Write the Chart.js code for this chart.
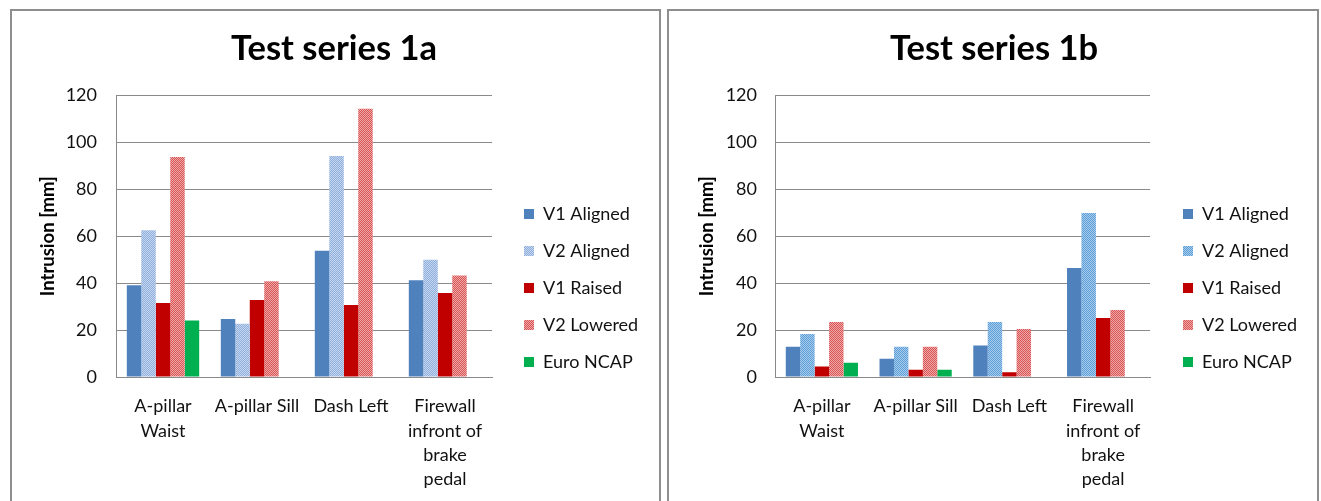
<!DOCTYPE html>
<html>
<head>
<meta charset="utf-8">
<script src="https://cdn.jsdelivr.net/npm/chart.js@4.4.1/dist/chart.umd.min.js"></script>
<style>
  html, body { margin: 0; padding: 0; background: #fff; overflow: hidden; width: 1321px; height: 501px; }
  .panel { position: absolute; top: 9px; border: 2px solid #8e8e8e; height: 560px; background: #fff; }
  #p1 { left: 10px; width: 647px; }
  #p2 { left: 667px; width: 648px; }
  canvas { display: block; }
</style>
</head>
<body>
<div class="panel" id="p1"><canvas id="c1" width="647" height="554"></canvas></div>
<div class="panel" id="p2"><canvas id="c2" width="648" height="554"></canvas></div>
<script>
// Measurement locations (x axis), legend names and y axis ticks
const categories = [['A-pillar', 'Waist'], 'A-pillar Sill', 'Dash Left', ['Firewall', 'infront of', 'brake', 'pedal']];
const seriesNames = ['V1 Aligned', 'V2 Aligned', 'V1 Raised', 'V2 Lowered', 'Euro NCAP'];
const yTicks = [0, 20, 40, 60, 80, 100, 120];

// Test series 1a – intrusion in mm
const s1a_v1Aligned = [39.1, 24.7, 53.8, 41.2];
const s1a_v2Aligned = [62.5, 22.7, 94.2, 50.0];
const s1a_v1Raised  = [31.5, 32.8, 30.7, 35.8];
const s1a_v2Lowered = [93.8, 40.8, 114.3, 43.3];
const s1a_euroNcap  = [24.1, null, null, null];

// Test series 1b – intrusion in mm
const s1b_v1Aligned = [12.9, 7.8, 13.4, 46.4];
const s1b_v2Aligned = [18.3, 12.9, 23.4, 69.9];
const s1b_v1Raised  = [4.5, 3.1, 2.0, 25.1];
const s1b_v2Lowered = [23.4, 12.9, 20.5, 28.6];
const s1b_euroNcap  = [6.1, 3.1, null, null];

const FONT = 'Lato, "Open Sans", sans-serif';
const TEXT = '#111';
const GRID = '#8a8a8a';
const LEGEND_SIZE = 18;
const LEGEND_PAD = 19;
const LEGEND_BOX = 10;
const YTITLE_SIZE = 18.5;

// 2x2 checkerboard fill, like the dotted office chart patterns
function checker(dark, light) {
  const t = document.createElement('canvas');
  t.width = 2; t.height = 2;
  const g = t.getContext('2d');
  g.fillStyle = light; g.fillRect(0, 0, 2, 2);
  g.fillStyle = dark; g.fillRect(0, 0, 1, 1); g.fillRect(1, 1, 1, 1);
  return g.createPattern(t, 'repeat');
}

// Work out paddings so the plot area, legend and titles land where wanted
function layoutFor(canvasW, t) {
  const g = document.createElement('canvas').getContext('2d');
  g.font = LEGEND_SIZE + 'px ' + FONT;
  const maxText = Math.max(...seriesNames.map(n => g.measureText(n).width));
  const legendW = LEGEND_PAD + LEGEND_BOX + LEGEND_SIZE / 2 + maxText + 10;
  const legendLeft = t.boxX - LEGEND_PAD;
  const padRight = Math.max(0, canvasW - legendLeft - legendW);
  const padLeft = Math.max(0, 2 * t.titleCenter - (canvasW - padRight));
  return {
    padLeft,
    padRight,
    gap: legendLeft - t.chartRight,
    yWidth: t.chartLeft - padLeft,
    tickPad: t.tickPad,
    titlePad: t.yTitleCenter - padLeft - YTITLE_SIZE * 1.2 / 2
  };
}

function buildChart(canvasId, title, values, fills, geo) {
  const datasets = values.map((v, i) => ({
    label: seriesNames[i],
    data: v,
    backgroundColor: fills[i],
    borderWidth: 0,
    categoryPercentage: 0.77,
    barPercentage: 1.0
  }));
  return new Chart(document.getElementById(canvasId), {
    type: 'bar',
    data: { labels: categories, datasets },
    options: {
      responsive: false,
      animation: false,
      devicePixelRatio: 1,
      layout: { padding: { left: geo.padLeft, right: geo.padRight, top: 0, bottom: 0 } },
      plugins: {
        tooltip: { enabled: false },
        title: {
          display: true,
          text: title,
          color: '#000',
          font: { family: FONT, size: 34.5, weight: 'bold', lineHeight: 1.2 },
          padding: { top: 17, bottom: 26 }
        },
        legend: {
          position: 'right',
          align: 'center',
          maxWidth: 400,
          labels: {
            boxWidth: LEGEND_BOX,
            boxHeight: LEGEND_BOX,
            padding: LEGEND_PAD,
            color: TEXT,
            font: { family: FONT, size: LEGEND_SIZE }
          }
        }
      },
      scales: {
        x: {
          grid: { display: false },
          border: { display: true, color: GRID, width: 1 },
          ticks: {
            color: TEXT,
            padding: 9,
            maxRotation: 0,
            autoSkip: false,
            font: { family: FONT, size: 18, lineHeight: 1.36 }
          },
          afterFit: s => { s.height = 188; }
        },
        y: {
          min: 0,
          max: 120,
          afterBuildTicks: s => { s.ticks = yTicks.map(v => ({ value: v })); },
          grid: { color: GRID, lineWidth: 1, drawTicks: false },
          border: { display: true, color: GRID, width: 1 },
          ticks: { color: TEXT, padding: geo.tickPad, font: { family: FONT, size: 18 } },
          title: {
            display: true,
            text: 'Intrusion [mm]',
            color: '#000',
            font: { family: FONT, size: YTITLE_SIZE, weight: 'bold', lineHeight: 1.2 },
            padding: { top: geo.titlePad, bottom: 0 }
          },
          afterFit: s => { s.width = geo.yWidth; }
        },
        gap: {
          position: 'right',
          display: true,
          grid: { display: false },
          border: { display: false },
          ticks: { display: false },
          afterFit: s => { s.width = geo.gap; }
        }
      }
    }
  });
}

const fills1a = [
  '#4f81bd',
  checker('#8eaedb', '#c6d7ef'),
  '#c00000',
  checker('#d95353', '#eeaaaa'),
  '#00b050'
];
const fills1b = [
  '#4f81bd',
  checker('#5f9fd8', '#a6cbec'),
  '#c00000',
  checker('#d95353', '#eeaaaa'),
  '#00b050'
];

buildChart('c1', 'Test series 1a',
  [s1a_v1Aligned, s1a_v2Aligned, s1a_v1Raised, s1a_v2Lowered, s1a_euroNcap], fills1a,
  layoutFor(647, { chartLeft: 104, chartRight: 480, boxX: 512, titleCenter: 322, yTitleCenter: 36, tickPad: 19 }));

buildChart('c2', 'Test series 1b',
  [s1b_v1Aligned, s1b_v2Aligned, s1b_v1Raised, s1b_v2Lowered, s1b_euroNcap], fills1b,
  layoutFor(648, { chartLeft: 106, chartRight: 481, boxX: 514, titleCenter: 325, yTitleCenter: 38, tickPad: 18 }));
</script>
</body>
</html>
